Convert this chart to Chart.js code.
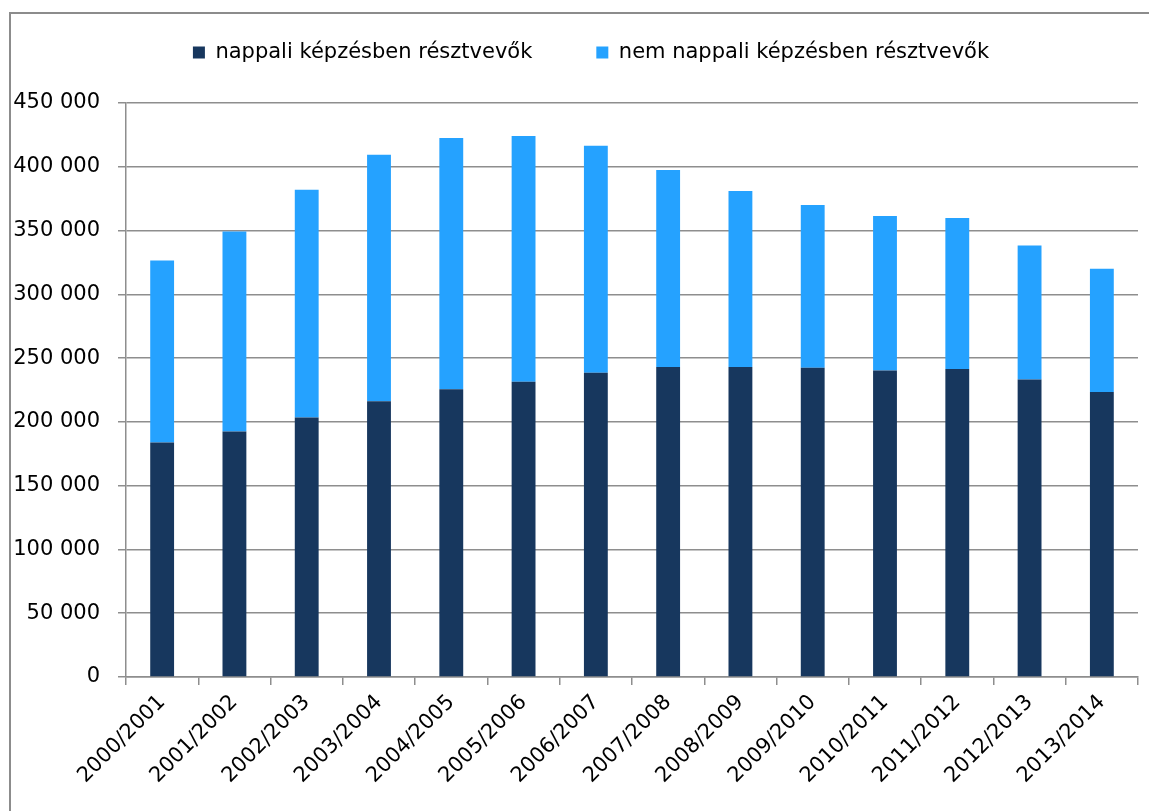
<!DOCTYPE html>
<html>
<head>
<meta charset="utf-8">
<script src="https://cdn.jsdelivr.net/npm/chart.js@4.4.1/dist/chart.umd.min.js"></script>
<style>
  html, body { margin: 0; padding: 0; background: #fff; overflow: hidden; width: 1149px; height: 811px; }
  #frame { position: absolute; left: 9px; top: 12px; width: 1160px; height: 820px; border: 2px solid #8c8c8c; }
  #chart { position: absolute; left: 0; top: 0; }
</style>
</head>
<body>
<div id="frame"><canvas id="chart" width="1160" height="820"></canvas></div>
<script>
const categories = ['2000/2001', '2001/2002', '2002/2003', '2003/2004', '2004/2005', '2005/2006', '2006/2007',
    '2007/2008', '2008/2009', '2009/2010', '2010/2011', '2011/2012', '2012/2013', '2013/2014'];
const nappali = [183800, 192400, 203400, 216200, 225500, 231500, 238500, 243000, 243000, 242400, 240300, 241400, 233300, 223400];
const nemNappali = [142800, 156800, 178600, 193200, 197100, 192700, 177900, 154400, 138000, 127600, 121200, 118500, 105000, 96700];
const seriesNames = ['nappali képzésben résztvevők', 'nem nappali képzésben résztvevők'];
const yTicksMax = 450000;
const yTicksStep = 50000;

const gridColor = '#8e8e8e';
const font = { family: 'DejaVu Sans', size: 21 };

// legend sits higher than its padding would allow, so fix its height after fit,
// and center it over the whole frame rather than the padded area
const legendFix = {
    id: 'legendFix',
    beforeInit(chart) {
        const fit = chart.legend.fit;
        chart.legend.fit = function () {
            fit.bind(chart.legend)();
            this.height = 125;
        };
    },
    afterLayout(chart) {
        chart.legend.left = 33;
        chart.legend.right = chart.width - 33;
    }
};

function fmt(v) {
    return String(v).replace(/\B(?=(\d{3})+(?!\d))/g, ' ');
}

const ctx = document.getElementById('chart').getContext('2d');
new Chart(ctx, {
    type: 'bar',
    data: {
        labels: categories,
        datasets: [
            { label: seriesNames[0], data: nappali, backgroundColor: '#17375e' },
            { label: seriesNames[1], data: nemNappali, backgroundColor: '#25a2ff' }
        ]
    },
    options: {
        responsive: false,
        animation: false,
        barPercentage: 0.33,
        categoryPercentage: 1,
        layout: { padding: { top: -36, left: 0, right: 33, bottom: 0 } },
        plugins: {
            legend: {
                position: 'top',
                labels: { boxWidth: 12, boxHeight: 12, padding: 64, color: '#000', font: font }
            },
            tooltip: { enabled: false }
        },
        scales: {
            x: {
                stacked: true,
                afterFit(scale) { scale.height = 157; },
                grid: { drawOnChartArea: false, drawTicks: true, tickLength: 8, color: gridColor, lineWidth: 1.5 },
                border: { color: gridColor, width: 1.5 },
                ticks: { color: '#000', font: font, minRotation: 45, maxRotation: 45, padding: 5, autoSkip: false }
            },
            y: {
                stacked: true,
                min: 0,
                max: yTicksMax,
                afterFit(scale) { scale.width = 115; },
                grid: { color: gridColor, lineWidth: 1.5, tickLength: 8 },
                border: { color: gridColor, width: 1.5 },
                ticks: { stepSize: yTicksStep, color: '#000', font: font, padding: 18, callback: (v) => fmt(v) }
            }
        }
    },
    plugins: [legendFix]
});
</script>
</body>
</html>
